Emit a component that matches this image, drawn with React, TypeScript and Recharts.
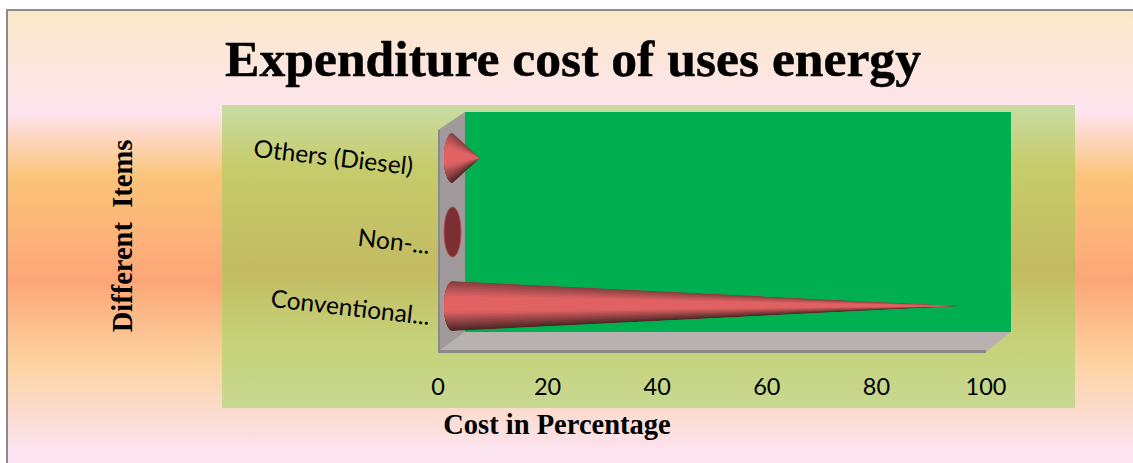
import React from 'react';
import { BarChart, Bar, XAxis, YAxis } from 'recharts';

const categories = ['Others (Diesel)', 'Non-...', 'Conventional...'];
const costValues = [5, 0, 92.5];
const xTicks = [0, 20, 40, 60, 80, 100];
const labelShiftX = [-17, 0, 0];
const labelShiftY = [0, 5, 2];

const titleText = 'Expenditure cost of uses energy';
const xTitle = 'Cost in Percentage';
const yTitle = 'Different\u00A0\u00A0Items';

const rows = categories.map((name, i) => ({ name, cost: costValues[i] }));

const W = 1133;
const H = 463;
const serif = '"Liberation Serif", serif';
const sans = 'Lato, sans-serif';

const DEPTH_X = 14.5;
const DEPTH_Y = 9;
const RX = 8.5;

const mix = (a: number[], b: number[], t: number) =>
  `rgb(${a.map((v, i) => Math.round(v + (b[i] - v) * t)).join(',')})`;

const TOP_EDGE = [135, 64, 64];
const BOTTOM_EDGE = [80, 40, 40];
const LIGHT = [224, 98, 98];

function Cone(props: any) {
  const { x, y, width, height, index } = props;
  const cx = x + DEPTH_X;
  const cy = y + height / 2 - DEPTH_Y;
  const ry = height / 2;
  if (!width || width <= RX) {
    return (
      <g>
        <ellipse cx={cx} cy={cy} rx={RX} ry={ry} fill="#7c2f32" stroke="#b04c4c" strokeWidth={1} />
      </g>
    );
  }
  const tip = x + width + DEPTH_X;
  const d = tip - cx;
  const tx = cx + (RX * RX) / d;
  const ty = ry * Math.sqrt(1 - (RX * RX) / (d * d));
  const outline = `M${tx},${cy - ty} A${RX},${ry} 0 1 0 ${tx},${cy + ty} L${tip},${cy} Z`;
  const id = `cone-clip-${index}`;
  const steps = 14;
  const left = cx - RX;
  const stretch = (tip - left) / d;
  const hi = -0.12 * ry;
  const layers = [];
  for (let k = 0; k < steps; k++) {
    const t = k / (steps - 1);
    const a = Math.min(1, t * 1.5);
    const up = -ry + (hi + ry) * t;
    const down = ry + (hi - ry) * t;
    layers.push(
      <polygon key={`u${k}`} points={`${tip},${cy} ${left},${cy + up * stretch} ${left},${cy + hi * stretch}`} fill={mix(TOP_EDGE, LIGHT, a)} />,
      <polygon key={`d${k}`} points={`${tip},${cy} ${left},${cy + hi * stretch} ${left},${cy + down * stretch}`} fill={mix(BOTTOM_EDGE, LIGHT, a)} />
    );
  }
  return (
    <g>
      <defs>
        <clipPath id={id}>
          <path d={outline} />
        </clipPath>
      </defs>
      <g clipPath={`url(#${id})`}>{layers}</g>
    </g>
  );
}

function CategoryTick(props: any) {
  const { x, y, payload, index } = props;
  const px = x - 1 + (labelShiftX[index] || 0);
  const py = y + 8 + (labelShiftY[index] || 0);
  return (
    <text
      x={px}
      y={py}
      textAnchor="end"
      fontFamily={sans}
      fontSize={24.5}
      fill="#000"
      transform={`rotate(6.5 ${px} ${py})`}
    >
      {payload.value}
    </text>
  );
}

function Backdrop() {
  return (
    <svg width={W} height={H} style={{ position: 'absolute', left: 0, top: 0 }}>
      <defs>
        <linearGradient id="pageFill" x1="0" y1="0" x2="0" y2="1">
          <stop offset="0" stopColor="#fae8c8" />
          <stop offset="0.22" stopColor="#fde4ef" />
          <stop offset="0.36" stopColor="#fbc479" />
          <stop offset="0.585" stopColor="#fda678" />
          <stop offset="0.76" stopColor="#fcd3a0" />
          <stop offset="0.95" stopColor="#fbe3f0" />
          <stop offset="1" stopColor="#fbe3f0" />
        </linearGradient>
        <linearGradient id="panelFill" x1="0" y1="0" x2="0" y2="1">
          <stop offset="0" stopColor="#c9dca3" />
          <stop offset="0.2" stopColor="#c6cc6c" />
          <stop offset="0.54" stopColor="#c3bb62" />
          <stop offset="0.78" stopColor="#c5d279" />
          <stop offset="1" stopColor="#c8d891" />
        </linearGradient>
      </defs>
      <rect x={0} y={0} width={W} height={H} fill="#ffffff" />
      <rect x={7} y={10} width={W} height={H} fill="url(#pageFill)" stroke="#8b8b8b" strokeWidth={2} />
      <rect x={222} y={105} width={853} height={303} fill="url(#panelFill)" />
      <rect x={465} y={112} width={546} height={220} fill="#00b050" />
      <polygon points="438,130 465,112 465,332 438,352" fill="#a09a9c" />
      <polygon points="438,352 465,332 1011,332 986,352" fill="#b9b0b0" />
      <rect x={438} y={350} width={548} height={3} fill="#8a8888" />
      <rect x={438} y={130} width={2} height={223} fill="#8a8888" />
      <text
        x={225}
        y={76}
        fontFamily={serif}
        fontWeight={700}
        fontSize={50}
        fill="#000"
        stroke="#000"
        strokeWidth={0.5}
        textLength={696}
        lengthAdjust="spacingAndGlyphs"
      >
        {titleText}
      </text>
    </svg>
  );
}

export default function App() {
  return (
    <div style={{ position: 'fixed', left: 0, top: 0, width: W, height: H, overflow: 'hidden' }}>
      <Backdrop />
      <div style={{ position: 'absolute', left: 0, top: 0 }}>
        <BarChart
          width={W}
          height={H}
          data={rows}
          layout="vertical"
          margin={{ left: 138, right: 147, top: 130, bottom: 11 }}
          barCategoryGap={0}
        >
          <XAxis
            type="number"
            dataKey="cost"
            domain={[0, 100]}
            ticks={xTicks}
            height={100}
            axisLine={false}
            tickLine={false}
            tickMargin={20}
            interval={0}
            tick={{ fontFamily: sans, fontSize: 23.5, fill: '#000' }}
            label={{
              value: xTitle,
              position: 'insideBottom',
              dx: -155,
              dy: -13,
              style: { fontFamily: serif, fontWeight: 700, fontSize: 28.5, fill: '#000' },
            }}
          />
          <YAxis
            type="category"
            dataKey="name"
            width={300}
            axisLine={false}
            tickLine={false}
            interval={0}
            tick={<CategoryTick />}
            label={{
              value: yTitle,
              angle: -90,
              position: 'insideLeft',
              dx: -21,
              dy: -5,
              style: { fontFamily: serif, fontWeight: 700, fontSize: 28.5, fill: '#000', textAnchor: 'middle' },
            }}
          />
          <Bar dataKey="cost" barSize={50} isAnimationActive={false} shape={<Cone />} />
        </BarChart>
      </div>
    </div>
  );
}
